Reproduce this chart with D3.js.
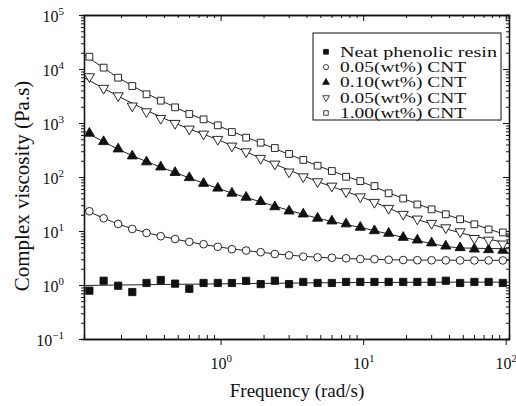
<!DOCTYPE html>
<html>
<head>
<meta charset="utf-8">
<script src="https://cdn.jsdelivr.net/npm/d3@7"></script>
<style>
  body { margin: 0; background: #fff; }
  text { font-family: "Liberation Serif", "Times New Roman", serif; fill: #111; }
  .axis path, .axis line { stroke: #111; }
</style>
</head>
<body>
<svg class="chart"></svg>
<script>
// Frequencies (rad/s) of the measured points
var freq = [0.120, 0.151, 0.191, 0.240, 0.302, 0.380, 0.479, 0.603, 0.759, 0.955,
            1.20, 1.51, 1.91, 2.40, 3.02, 3.80, 4.79, 6.03, 7.59, 9.55,
            12.0, 15.1, 19.1, 24.0, 30.2, 38.0, 47.9, 60.3, 75.9, 95.5];

// Complex viscosity (Pa.s) of each sample
var neat = [0.785, 1.2, 0.97, 0.74, 1.09, 1.24, 1.06, 0.85, 1.09, 1.09,
            1.09, 1.19, 1.04, 1.2, 1.04, 1.14, 1.09, 1.09, 1.14, 1.14,
            1.14, 1.14, 1.14, 1.14, 1.14, 1.2, 1.09, 1.14, 1.14, 1.09];
var cnt005a = [23.2, 17.2, 13.5, 10.9, 9.2, 8.0, 7.1, 6.3, 5.7, 5.1,
               4.6, 4.35, 4.05, 3.75, 3.55, 3.35, 3.25, 3.2, 3.12, 3.03,
               3.0, 2.93, 2.9, 2.88, 2.87, 2.86, 2.85, 2.85, 2.85, 2.85];
var cnt010 = [645, 451, 330, 245, 190, 153, 121, 97, 76, 62,
              50, 42, 35, 28, 23.4, 20.6, 17.2, 15.3, 13.5, 11.7,
              10.1, 9.05, 7.6, 6.8, 6.0, 5.25, 4.9, 4.62, 4.5, 4.38];
var cnt005b = [7210, 4400, 3200, 2070, 1620, 1220, 986, 774, 625, 499,
               375, 294, 222, 174, 124, 101, 82, 68, 53.5, 43,
               34, 26.3, 20.4, 16.7, 13.9, 11.5, 9.7, 7.3, 6.8, 5.75];
var cnt100 = [16900, 10600, 6900, 4840, 3400, 2590, 1950, 1470, 1170, 906,
              681, 535, 432, 344, 267, 207, 162, 129, 101, 84,
              68, 50, 40, 31, 25.2, 20.4, 16.5, 13.3, 10.7, 9.4];

// Fitted curves, read at a few frequencies
var fitFreq = [0.11, 0.2, 0.5, 1, 2, 5, 10, 20, 50, 105];
var fitNeat = [0.98, 1.0, 1.03, 1.05, 1.07, 1.1, 1.11, 1.12, 1.13, 1.13];
var fit005a = [25.1, 12.9, 6.92, 5.0, 3.98, 3.24, 3.02, 2.9, 2.87, 2.86];
var fit010 = [708, 309, 116, 59, 33.4, 16.8, 11.35, 7.43, 4.85, 4.7];
var fit005b = [6920, 2950, 945, 468, 212, 79, 41.5, 19.6, 9.0, 6.0];
var fit100 = [18600, 6460, 1860, 851, 407, 155, 79.4, 38, 15.8, 8.2];

var labels = ["Neat phenolic resin", "0.05(wt%) CNT", "0.10(wt%) CNT", "0.05(wt%) CNT", "1.00(wt%) CNT"];
var xTicks = [1, 10, 100];
var yTicks = [0.1, 1, 10, 100, 1000, 10000, 100000];

// Define margins and dimensions
var margin = {top: 15, right: 7, bottom: 67, left: 84},
    width = 516 - margin.left - margin.right,
    height = 406 - margin.top - margin.bottom;

var x = d3.scaleLog().domain([0.11, 105.5]).range([0, width]);
var y = d3.scaleLog().domain([0.1, 100000]).range([height, 0]);

var svg = d3.select(".chart")
    .attr("width", 516)
    .attr("height", 406);

var chart = svg.append("g")
    .attr("transform", "translate(" + margin.left + "," + margin.top + ")");

// minor tick values (2..9 of each decade) inside the domain
function minors(scale) {
  var d = scale.domain(), out = [];
  for (var e = -2; e <= 5; e++) {
    for (var m = 2; m <= 9; m++) {
      var v = m * Math.pow(10, e);
      if (v > d[0] && v < d[1]) out.push(v);
    }
  }
  return out;
}

// Minor ticks
chart.append("g").attr("class", "axis")
    .attr("transform", "translate(0," + height + ")")
    .call(d3.axisBottom(x).tickValues(minors(x)).tickSize(-4).tickFormat(""));
chart.append("g").attr("class", "axis")
    .call(d3.axisTop(x).tickValues(minors(x)).tickSize(-3).tickFormat(""));
chart.append("g").attr("class", "axis")
    .call(d3.axisLeft(y).tickValues(minors(y)).tickSize(3).tickFormat(""));
chart.append("g").attr("class", "axis")
    .attr("transform", "translate(" + width + ",0)")
    .call(d3.axisRight(y).tickValues(minors(y)).tickSize(-3).tickFormat(""));

// Major ticks
var xAxis = chart.append("g").attr("class", "axis x")
    .attr("transform", "translate(0," + height + ")")
    .call(d3.axisBottom(x).tickValues(xTicks).tickSize(6).tickSizeOuter(0).tickFormat(""));
chart.append("g").attr("class", "axis")
    .call(d3.axisTop(x).tickValues(xTicks).tickSize(-6).tickSizeOuter(0).tickFormat(""));
var yAxis = chart.append("g").attr("class", "axis y")
    .call(d3.axisLeft(y).tickValues(yTicks).tickSize(5).tickSizeOuter(0).tickFormat(""));
chart.append("g").attr("class", "axis")
    .attr("transform", "translate(" + width + ",0)")
    .call(d3.axisRight(y).tickValues(yTicks).tickSize(-6).tickSizeOuter(0).tickFormat(""));

chart.selectAll(".axis path").attr("stroke-width", 1.3);
chart.selectAll(".axis line").attr("stroke-width", 1);

// Power-of-ten labels
function powLabel(sel, v) {
  var e = Math.round(Math.log10(v));
  sel.append("tspan").text("10");
  sel.append("tspan").attr("dy", -7).attr("font-size", 11)
      .text(e < 0 ? "\u2212" + (-e) : e);
}

xAxis.selectAll(".tick").each(function(d) {
  d3.select(this).append("text")
      .attr("y", 30).attr("text-anchor", "middle")
      .attr("font-size", 16)
      .call(powLabel, d);
});
yAxis.selectAll(".tick").each(function(d) {
  d3.select(this).append("text")
      .attr("x", -20).attr("dy", 6).attr("text-anchor", "end")
      .attr("font-size", 16)
      .call(powLabel, d);
});

// Axis titles
svg.append("text")
    .attr("x", 297).attr("y", 397)
    .attr("text-anchor", "middle").attr("font-size", 19)
    .text("Frequency (rad/s)");
svg.append("text")
    .attr("transform", "translate(29,186) rotate(-90)")
    .attr("text-anchor", "middle").attr("font-size", 21)
    .text("Complex viscosity (Pa.s)");

// Series
var series = [
  {vals: neat, fit: fitNeat, shape: d3.symbolSquare, size: 52, fill: "#111", rot: 0},
  {vals: cnt005a, fit: fit005a, shape: d3.symbolCircle, size: 46, fill: "#fff", rot: 0},
  {vals: cnt010, fit: fit010, shape: d3.symbolTriangle, size: 44, fill: "#111", rot: 0},
  {vals: cnt005b, fit: fit005b, shape: d3.symbolTriangle, size: 44, fill: "#fff", rot: 180},
  {vals: cnt100, fit: fit100, shape: d3.symbolSquare, size: 46, fill: "#fff", rot: 0}
];

var line = d3.line()
    .x(function(d) { return x(d[0]); })
    .y(function(d) { return y(d[1]); })
    .curve(d3.curveMonotoneX);

series.forEach(function(s) {
  chart.append("path")
      .datum(d3.zip(fitFreq, s.fit))
      .attr("fill", "none")
      .attr("stroke", "#222")
      .attr("stroke-width", 1)
      .attr("d", line);
});

series.forEach(function(s) {
  chart.selectAll(null)
    .data(d3.zip(freq, s.vals))
    .enter().append("path")
      .attr("transform", function(d) {
        return "translate(" + x(d[0]) + "," + y(d[1]) + ") rotate(" + s.rot + ")";
      })
      .attr("d", d3.symbol().type(s.shape).size(s.size))
      .attr("fill", s.fill)
      .attr("stroke", "#111")
      .attr("stroke-width", 0.9);
});

// Legend
var legend = svg.append("g").attr("transform", "translate(313,33)");
legend.append("rect")
    .attr("width", 188).attr("height", 87)
    .attr("fill", "#fff").attr("stroke", "#111").attr("stroke-width", 1);

var legendWidths = [157, 126, 126, 126, 126];
series.forEach(function(s, i) {
  var cy = 18.8 + i * 15.3;
  legend.append("path")
      .attr("transform", "translate(13," + cy + ") rotate(" + s.rot + ")")
      .attr("d", d3.symbol().type(s.shape).size(s.size * 0.45))
      .attr("fill", s.fill)
      .attr("stroke", "#111")
      .attr("stroke-width", 0.8);
  legend.append("text")
      .attr("x", 27).attr("y", cy + 4.8)
      .attr("font-size", 14.5)
      .attr("textLength", legendWidths[i])
      .attr("lengthAdjust", "spacingAndGlyphs")
      .text(labels[i]);
});
</script>
</body>
</html>
